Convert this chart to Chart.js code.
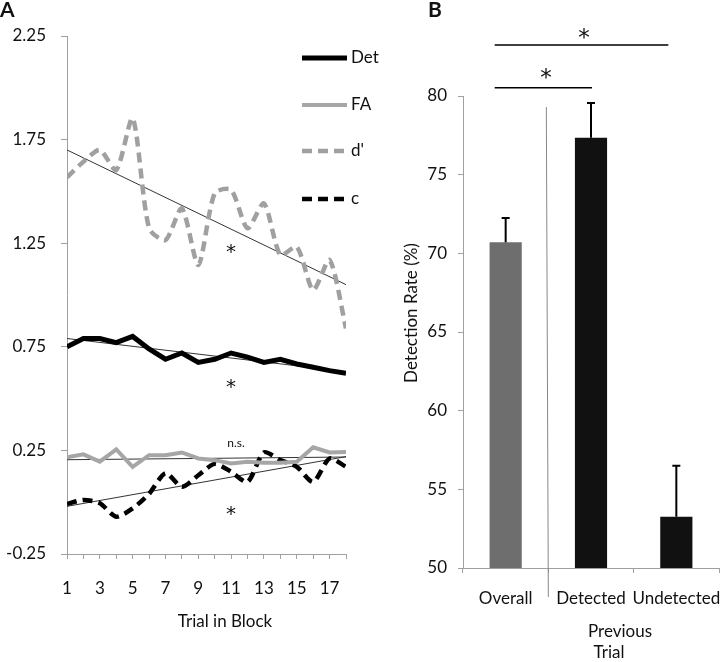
<!DOCTYPE html>
<html>
<head>
<meta charset="utf-8">
<script src="https://cdn.jsdelivr.net/npm/chart.js@4.4.1/dist/chart.umd.min.js"></script>
<style>
  html, body { margin: 0; padding: 0; background: #fff; }
  #wrap { position: relative; width: 720px; height: 662px; overflow: hidden; }
  .panel { position: absolute; top: 0; }
  #panelA { left: 0; }
  #panelB { left: 370px; }
</style>
</head>
<body>
<div id="wrap">
  <div class="panel" id="panelA"><canvas id="chartA" width="390" height="662"></canvas></div>
  <div class="panel" id="panelB"><canvas id="chartB" width="350" height="662"></canvas></div>
</div>
<script>
const FONT = 'Lato, "Open Sans", sans-serif'
const STAR_FONT = '"DejaVu Sans", sans-serif'
const AXIS_GREY = '#a0a0a0'

// panel A - measures over trials in a block
const trials = [1, 2, 3, 4, 5, 6, 7, 8, 9, 10, 11, 12, 13, 14, 15, 16, 17, 18]
const detRate = [0.75, 0.79, 0.79, 0.77, 0.80, 0.74, 0.69, 0.72, 0.675, 0.69, 0.72, 0.70, 0.675, 0.69, 0.667, 0.651, 0.635, 0.622]
const faRate = [0.217, 0.231, 0.196, 0.255, 0.171, 0.227, 0.227, 0.24, 0.211, 0.203, 0.187, 0.195, 0.19, 0.19, 0.195, 0.265, 0.24, 0.242]
const dPrime = [1.568, 1.643, 1.70, 1.603, 1.853, 1.322, 1.265, 1.418, 1.145, 1.491, 1.507, 1.322, 1.442, 1.193, 1.233, 1.024, 1.169, 0.839]
const criterion = [-0.009, 0.011, -0.005, -0.07, -0.03, 0.04, 0.14, 0.074, 0.13, 0.185, 0.147, 0.098, 0.24, 0.203, 0.171, 0.098, 0.211, 0.171]
// linear fits (value at first and last trial)
const fitDet = [0.79, 0.63]
const fitFA = [0.205, 0.218]
const fitDPrime = [1.70, 1.05]
const fitCrit = [-0.02, 0.22]

// panel B - detection rate by previous trial
const groups = ['Overall', 'Detected', 'Undetected']
const detection = [70.7, 77.35, 53.25]
const detectionErr = [1.55, 2.2, 3.25]

const toXY = arr => arr.map((v, i) => ({ x: trials[i], y: v }))
const fitXY = f => [{ x: trials[0], y: f[0] }, { x: trials[trials.length - 1], y: f[1] }]

const fitLine = f => ({
  data: fitXY(f), borderColor: '#333', borderWidth: 1, pointRadius: 0, fill: false
})

function text(ctx, str, x, y, size, opts = {}) {
  ctx.save()
  ctx.font = (opts.weight || 'normal') + ' ' + size + 'px ' + (opts.family || FONT)
  ctx.fillStyle = opts.color || '#111'
  ctx.textAlign = opts.align || 'center'
  ctx.textBaseline = 'middle'
  if (opts.rotate) {
    ctx.translate(x, y)
    ctx.rotate(opts.rotate)
    ctx.fillText(str, 0, 0)
  } else {
    ctx.fillText(str, x, y)
  }
  ctx.restore()
}

const star = (ctx, x, y, size) => text(ctx, '*', x, y, size, { family: STAR_FONT })

const extrasA = {
  id: 'extrasA',
  afterDraw(chart) {
    const ctx = chart.ctx
    const x = chart.scales.x, y = chart.scales.y
    // legend
    const legendY = [58, 105, 151, 199]
    chart.data.datasets.slice(0, 4).forEach((ds, i) => {
      ctx.save()
      ctx.strokeStyle = ds.borderColor
      ctx.lineWidth = ds.borderWidth
      ctx.setLineDash(ds.borderDash || [])
      ctx.beginPath()
      ctx.moveTo(302, legendY[i])
      ctx.lineTo(347, legendY[i])
      ctx.stroke()
      ctx.restore()
      text(ctx, ds.label, 351, legendY[i], 17, { align: 'left' })
    })
    // significance marks
    const sx = x.getPixelForValue(11)
    star(ctx, sx, y.getPixelForValue(1.227) + 5, 20)
    star(ctx, sx, y.getPixelForValue(0.575) + 5, 20)
    star(ctx, sx, y.getPixelForValue(-0.038) + 5, 20)
    text(ctx, 'n.s.', sx + 5, y.getPixelForValue(0.283), 12)
    text(ctx, 'Trial in Block', 225, 622, 17)
    text(ctx, 'A', 0, 10, 21, { align: 'left', weight: 'bold' })
  }
}

new Chart(document.getElementById('chartA'), {
  type: 'line',
  data: {
    datasets: [
      { label: 'Det', data: toXY(detRate), borderColor: '#000', borderWidth: 5, pointRadius: 0 },
      { label: 'FA', data: toXY(faRate), borderColor: '#a6a6a6', borderWidth: 4, pointRadius: 0 },
      { label: "d'", data: toXY(dPrime), borderColor: '#a0a0a0', borderWidth: 4.5, borderDash: [10, 6], tension: 0.25, pointRadius: 0 },
      { label: 'c', data: toXY(criterion), borderColor: '#000', borderWidth: 4.5, borderDash: [10, 6], tension: 0.25, pointRadius: 0 },
      fitLine(fitDet), fitLine(fitFA), fitLine(fitDPrime), fitLine(fitCrit)
    ]
  },
  options: {
    responsive: false,
    animation: false,
    devicePixelRatio: 1,
    layout: { padding: { top: 36, right: 44, bottom: 0, left: 0 } },
    plugins: { legend: { display: false }, tooltip: { enabled: false } },
    scales: {
      x: {
        type: 'linear', min: 1, max: 18,
        afterFit: s => { s.height = 108 },
        grid: { drawOnChartArea: false, color: AXIS_GREY, tickLength: 5 },
        border: { color: AXIS_GREY },
        ticks: {
          stepSize: 1, autoSkip: false, maxRotation: 0, padding: 19,
          color: '#111', font: { family: FONT, size: 17 },
          callback: v => (v % 2 === 1 ? String(v) : '')
        }
      },
      y: {
        min: -0.25, max: 2.25,
        afterFit: s => { s.width = 67 },
        grid: { drawOnChartArea: false, color: AXIS_GREY, tickLength: 6 },
        border: { color: AXIS_GREY },
        ticks: {
          stepSize: 0.5, padding: 15,
          color: '#111', font: { family: FONT, size: 17 },
          callback: v => v.toFixed(2)
        }
      }
    }
  },
  plugins: [extrasA]
})

const extrasB = {
  id: 'extrasB',
  afterDatasetsDraw(chart) {
    const ctx = chart.ctx
    const y = chart.scales.y
    const bars = chart.getDatasetMeta(0).data
    ctx.save()
    ctx.strokeStyle = '#000'
    ctx.lineWidth = 2
    bars.forEach((bar, i) => {
      const top = y.getPixelForValue(detection[i] + detectionErr[i])
      ctx.beginPath()
      ctx.moveTo(bar.x, y.getPixelForValue(detection[i]))
      ctx.lineTo(bar.x, top)
      ctx.moveTo(bar.x - 4, top)
      ctx.lineTo(bar.x + 4, top)
      ctx.stroke()
    })
    ctx.restore()
  },
  afterDraw(chart) {
    const ctx = chart.ctx
    const x = chart.scales.x, y = chart.scales.y
    const c0 = x.getPixelForValue(0), c1 = x.getPixelForValue(1), c2 = x.getPixelForValue(2)
    // group separator
    const sep = (c0 + c1) / 2
    ctx.save()
    ctx.strokeStyle = '#888'
    ctx.lineWidth = 1
    ctx.beginPath()
    ctx.moveTo(sep - 2, y.getPixelForValue(79.3))
    ctx.lineTo(sep, chart.chartArea.bottom + 29)
    ctx.stroke()
    // significance brackets
    ctx.strokeStyle = '#000'
    ctx.lineWidth = 1.5
    const yHi = y.getPixelForValue(83.24), yLo = y.getPixelForValue(80.53)
    ctx.beginPath()
    ctx.moveTo(c0 - 11, yHi); ctx.lineTo(c2 - 8, yHi)
    ctx.moveTo(c0 - 11, yLo); ctx.lineTo(c1 + 1, yLo)
    ctx.stroke()
    ctx.restore()
    star(ctx, 214, yHi - 6, 23)
    star(ctx, 176, yLo - 9, 23)
    // titles
    text(ctx, 'Detection Rate (%)', 42, 313, 17, { rotate: -Math.PI / 2 })
    text(ctx, 'Previous', 250, 632, 17)
    text(ctx, 'Trial', 239, 653, 17)
    text(ctx, 'B', 58, 10, 21, { align: 'left', weight: 'bold' })
  }
}

new Chart(document.getElementById('chartB'), {
  type: 'bar',
  data: {
    labels: groups,
    datasets: [{
      data: detection,
      backgroundColor: ['#6e6e6e', '#111111', '#111111'],
      categoryPercentage: 1,
      barPercentage: 0.377
    }]
  },
  options: {
    responsive: false,
    animation: false,
    devicePixelRatio: 1,
    layout: { padding: { top: 96, right: 1, bottom: 0, left: 0 } },
    plugins: { legend: { display: false }, tooltip: { enabled: false } },
    scales: {
      x: {
        afterFit: s => { s.height = 94; s.paddingLeft = 0; s.paddingRight = 0 },
        grid: { drawOnChartArea: false, color: AXIS_GREY, tickLength: 5 },
        border: { color: AXIS_GREY },
        ticks: { autoSkip: false, padding: 15, maxRotation: 0, color: '#111', font: { family: FONT, size: 17 } }
      },
      y: {
        min: 50, max: 80,
        afterFit: s => { s.width = 93 },
        grid: { drawOnChartArea: false, color: AXIS_GREY, tickLength: 5 },
        border: { color: AXIS_GREY },
        ticks: { stepSize: 5, padding: 11, color: '#111', font: { family: FONT, size: 17 } }
      }
    }
  },
  plugins: [extrasB]
})
</script>
</body>
</html>
